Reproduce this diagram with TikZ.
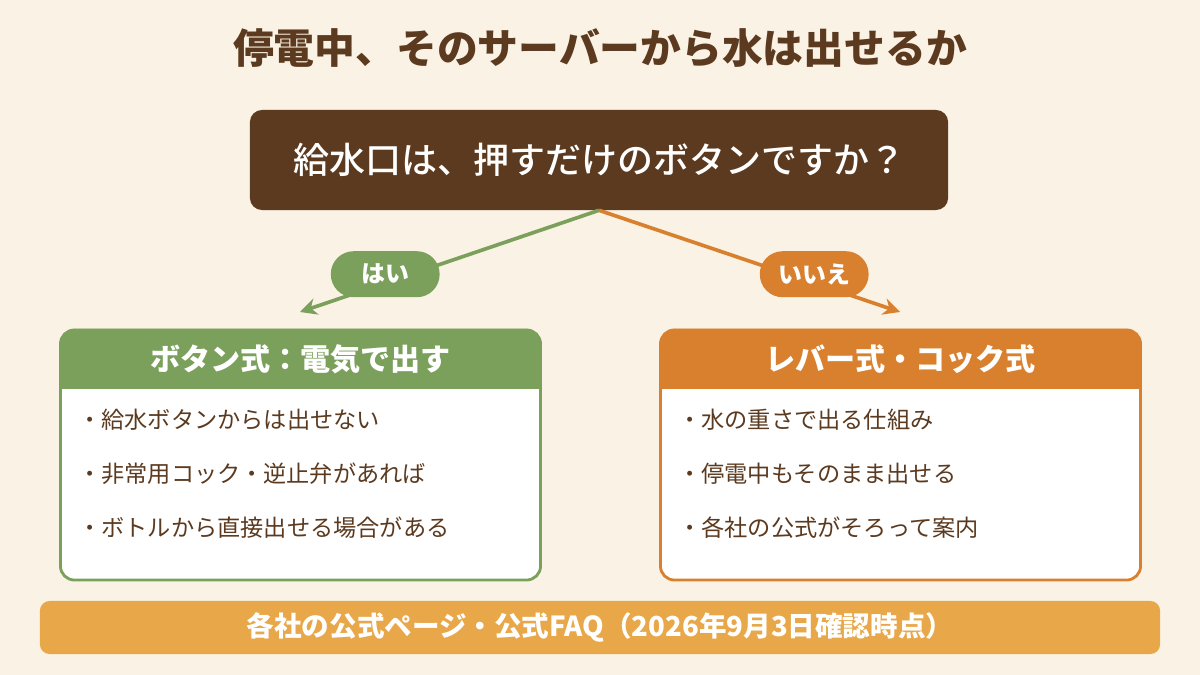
\documentclass[tikz,border=0pt]{standalone}
\usepackage{fontspec}
\setmainfont{Noto Sans CJK JP}
\newfontfamily\jpmedium{Noto Sans CJK JP Medium}
\usetikzlibrary{arrows.meta, positioning}
\definecolor{bgcream}{HTML}{FAF2E4}
\definecolor{darkbrown}{HTML}{5B3A1F}
\definecolor{leafgreen}{HTML}{7BA05C}
\definecolor{rustorange}{HTML}{D9802E}
\definecolor{amber}{HTML}{E8A84A}

\begin{document}
\begin{tikzpicture}[x=0.025cm, y=-0.025cm,
  heading/.style={text=darkbrown, font=\bfseries\fontsize{29}{34}\selectfont},
  qbox/.style={fill=darkbrown, rounded corners=0.3cm,
               minimum width=17.45cm, minimum height=2.5cm,
               text=white, font=\jpmedium\fontsize{25.6}{30}\selectfont},
  pill/.style={fill=#1, rounded corners=0.57cm,
               minimum width=2.72cm, minimum height=1.15cm,
               text=white, font=\bfseries\fontsize{17}{20}\selectfont},
  branch/.style={draw=#1, line width=2.6pt,
                 -{Stealth[length=0.42cm, width=0.42cm]}},
  card/.style={draw=#1, line width=2pt, fill=white, rounded corners=0.35cm,
               minimum width=12cm, minimum height=6.25cm},
  cardhead/.style={fill=#1, rounded corners=0.35cm,
                   minimum width=12cm, minimum height=1.5cm},
  headtext/.style={text=white, font=\bfseries\fontsize{21.4}{25}\selectfont},
  item/.style={anchor=west, text=darkbrown, inner sep=0pt,
               font=\fontsize{16.5}{20}\selectfont},
  srcbar/.style={fill=amber, rounded corners=0.25cm,
                 minimum width=28cm, minimum height=1.33cm,
                 text=white, font=\bfseries\fontsize{19.6}{23}\selectfont}
]
  % - Nen -
  \fill[bgcream] (0,0) rectangle (1200,675);
  \useasboundingbox (0,0) rectangle (1200,675);

  % - Tieu de + cau hoi -
  \node[heading] (title) at (600,48) {停電中、そのサーバーから水は出せるか};
  \node[qbox] (quiz) at (599,160) {給水口は、押すだけのボタンですか？};

  % - Nhanh -
  \coordinate (yestip) at (300,312);
  \coordinate (notip)  at (900,312);
  \draw[branch=leafgreen] (quiz.south) -- (yestip)
    node[pill=leafgreen, pos=0.715, yshift=0.22cm] (yes) {はい};
  \draw[branch=rustorange] (quiz.south) -- (notip)
    node[pill=rustorange, pos=0.715, yshift=0.22cm] (no) {いいえ};

  % - The trai: nut bam -
  \node[card=leafgreen] (btncard) at (300.5,455) {};
  \node[cardhead=leafgreen, anchor=north] (btnhead) at (btncard.north) {};
  \fill[leafgreen] (btnhead.west) rectangle (btnhead.south east);
  \node[headtext] (btntitle) at (btnhead.center) {ボタン式：電気で出す};
  \node[item] (btna) at (78,420) {・給水ボタンからは出せない};
  \node[item, below=1.35cm of btna.west, anchor=west] (btnb) {・非常用コック・逆止弁があれば};
  \node[item, below=1.35cm of btnb.west, anchor=west] (btnc) {・ボトルから直接出せる場合がある};

  % - The phai: can gat -
  \node[card=rustorange] (levcard) at (900.5,455) {};
  \node[cardhead=rustorange, anchor=north] (levhead) at (levcard.north) {};
  \fill[rustorange] (levhead.west) rectangle (levhead.south east);
  \node[headtext] (levtitle) at (levhead.center) {レバー式・コック式};
  \node[item] (leva) at (678,420) {・水の重さで出る仕組み};
  \node[item, below=1.35cm of leva.west, anchor=west] (levb) {・停電中もそのまま出せる};
  \node[item, below=1.35cm of levb.west, anchor=west] (levc) {・各社の公式がそろって案内};

  % - Nguon -
  \node[srcbar] (src) at (600,627.5) {各社の公式ページ・公式FAQ（2026年9月3日確認時点）};
\end{tikzpicture}
\end{document}
